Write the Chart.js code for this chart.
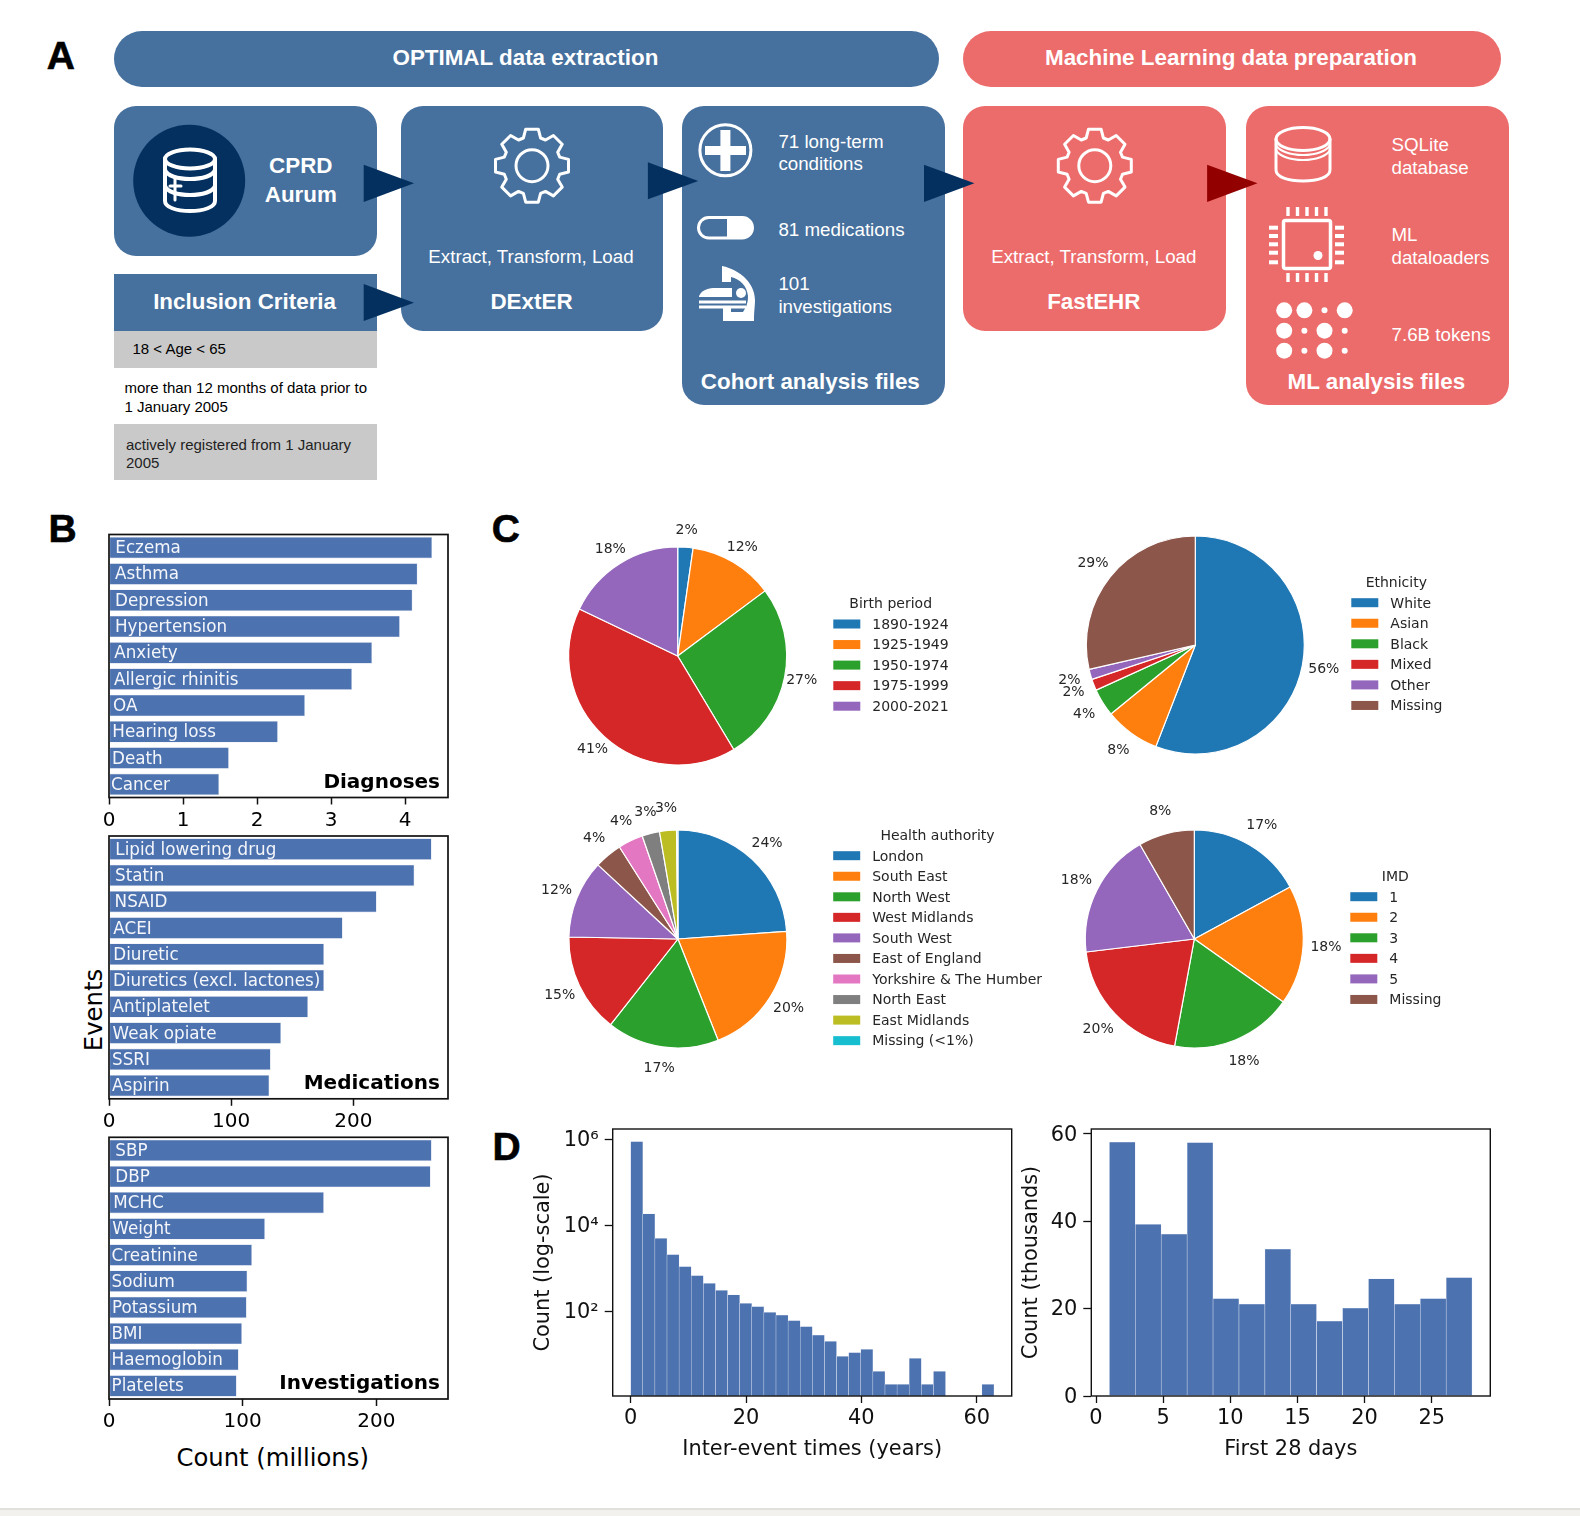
<!DOCTYPE html>
<html>
<head>
<meta charset="utf-8">
<title>Data pipeline and cohort overview</title>
<script src="https://cdn.jsdelivr.net/npm/chart.js@4"></script>
<style>
  html, body { margin: 0; padding: 0; background: #fff; }
  #fig { position: relative; width: 1580px; height: 1516px; overflow: hidden; font-family: "Liberation Sans", Arial, sans-serif; }
  #fig canvas { position: absolute; }
  .box { position: absolute; background: #46709d; border-radius: 22px; }
  .red { background: #ec6b6b; }
  .grey { position: absolute; background: #c9c9c9; left: 114.4px; width: 263px; }
  .t { position: absolute; white-space: nowrap; transform: translateY(-50%); line-height: 1; }
  .c { transform: translate(-50%, -50%); }
  .w { color: #fff; font-size: 18.75px; }
  .b { color: #fff; font-size: 22.4px; font-weight: bold; }
  .k { color: #000; font-size: 15px; }
  .letter { font-size: 39px; font-weight: bold; color: #000; -webkit-text-stroke: 0.6px #000; }
  .sup { font-family: "DejaVu Sans"; font-size: 24.3px; color: #000; }
  #strip { position: absolute; left: 0; top: 1508px; width: 1580px; height: 8px; background: #f2f1ed; border-top: 2px solid #e3e1dc; box-sizing: border-box; }
</style>
</head>
<body>
<div id="fig">
  <!-- panel A -->
  <div class="box" style="left:114.4px;top:30.7px;width:824.7px;height:56.3px;border-radius:28px"></div>
  <div class="box red" style="left:963.3px;top:30.7px;width:537.5px;height:56.3px;border-radius:28px"></div>
  <div class="box" style="left:114.4px;top:105.7px;width:263px;height:150px"></div>
  <div class="box" style="left:114.4px;top:274.3px;width:263px;height:56.4px;border-radius:0"></div>
  <div class="grey" style="top:330.7px;height:37px"></div>
  <div class="grey" style="top:424.3px;height:56px"></div>
  <div class="box" style="left:400.8px;top:105.7px;width:262.7px;height:225px"></div>
  <div class="box" style="left:681.9px;top:105.7px;width:263px;height:299.6px"></div>
  <div class="box red" style="left:963.3px;top:105.7px;width:263px;height:225px"></div>
  <div class="box red" style="left:1246.4px;top:105.7px;width:263px;height:299.6px"></div>
  <svg id="icons" width="1580" height="500" style="position:absolute;left:0;top:0"></svg>

  <div class="t c letter" style="left:60.8px;top:55.2px">A</div>
  <div class="t c letter" style="left:62.5px;top:527.5px">B</div>
  <div class="t c letter" style="left:505.8px;top:527.8px">C</div>
  <div class="t c letter" style="left:506.5px;top:1145.6px">D</div>

  <div class="t c b" style="left:525.4px;top:57.5px">OPTIMAL data extraction</div>
  <div class="t c b" style="left:1231px;top:57.5px">Machine Learning data preparation</div>
  <div class="t c b" style="left:300.8px;top:166px">CPRD</div>
  <div class="t c b" style="left:300.8px;top:194.7px">Aurum</div>
  <div class="t c b" style="left:244.6px;top:301.8px">Inclusion Criteria</div>
  <div class="t k" style="left:132.5px;top:348.2px">18 &lt; Age &lt; 65</div>
  <div class="t k" style="left:124.4px;top:387.3px">more than 12 months of data prior to</div>
  <div class="t k" style="left:124.4px;top:406px">1 January 2005</div>
  <div class="t k" style="left:126px;top:443.7px;color:#222">actively registered from 1 January</div>
  <div class="t k" style="left:126px;top:462.3px;color:#222">2005</div>
  <div class="t c w" style="left:531px;top:257.3px">Extract, Transform, Load</div>
  <div class="t c b" style="left:531.5px;top:301.8px">DExtER</div>
  <div class="t w" style="left:778.4px;top:142px">71 long-term</div>
  <div class="t w" style="left:778.4px;top:164.3px">conditions</div>
  <div class="t w" style="left:778.4px;top:229.7px">81 medications</div>
  <div class="t w" style="left:778.4px;top:284px">101</div>
  <div class="t w" style="left:778.4px;top:306.7px">investigations</div>
  <div class="t c b" style="left:810.3px;top:382.4px">Cohort analysis files</div>
  <div class="t c w" style="left:1093.8px;top:257.3px">Extract, Transform, Load</div>
  <div class="t c b" style="left:1093.8px;top:301.8px">FastEHR</div>
  <div class="t w" style="left:1391.5px;top:145.3px">SQLite</div>
  <div class="t w" style="left:1391.5px;top:167.7px">database</div>
  <div class="t w" style="left:1391.5px;top:235.3px">ML</div>
  <div class="t w" style="left:1391.5px;top:257.7px">dataloaders</div>
  <div class="t w" style="left:1391.5px;top:334.7px">7.6B tokens</div>
  <div class="t c b" style="left:1376.4px;top:382.4px">ML analysis files</div>

  <!-- shared labels of panel B -->
  <div class="t c sup" style="left:272.7px;top:1457.5px">Count (millions)</div>
  <div class="t c sup" style="left:94px;top:1010px;transform:translate(-50%,-50%) rotate(-90deg)">Events</div>
  <div id="strip"></div>
</div>

<script>
// --- 1. DATA ---
const diagLabels = ['Eczema', 'Asthma', 'Depression', 'Hypertension', 'Anxiety', 'Allergic rhinitis', 'OA', 'Hearing loss', 'Death', 'Cancer'];
const diagValues = [4.366, 4.168, 4.10, 3.93, 3.555, 3.284, 2.648, 2.282, 1.62, 1.488];
const diagInsets = [6.3, 6, 6, 6, 5.3, 5, 4, 3.3, 3, 2];
const diagTicks = [0, 1, 2, 3, 4];

const medLabels = ['Lipid lowering drug', 'Statin', 'NSAID', 'ACEI', 'Diuretic', 'Diuretics (excl. lactones)', 'Antiplatelet', 'Weak opiate', 'SSRI', 'Aspirin'];
const medValues = [264, 249.9, 219, 191.2, 176, 176, 162.9, 140.8, 132.3, 131.2];
const medInsets = [6.3, 6, 5.6, 4.3, 4.3, 4, 3.6, 3.6, 3, 3];
const medTicks = [0, 100, 200];

const invLabels = ['SBP', 'DBP', 'MCHC', 'Weight', 'Creatinine', 'Sodium', 'Potassium', 'BMI', 'Haemoglobin', 'Platelets'];
const invValues = [241.4, 240.6, 160.8, 116.7, 107, 103.5, 103, 99.5, 97, 95.5];
const invInsets = [6.3, 6.3, 4.3, 3.3, 2.6, 2.6, 3, 2.6, 2.6, 2.6];
const invTicks = [0, 100, 200];

const birthLabels = ['1890-1924', '1925-1949', '1950-1974', '1975-1999', '2000-2021'];
const birthValues = [2.26, 12.55, 26.6, 40.7, 17.9];
const birthPct = ['2%', '12%', '27%', '41%', '18%'];

const ethLabels = ['White', 'Asian', 'Black', 'Mixed', 'Other', 'Missing'];
const ethValues = [55.9, 8.2, 4.1, 1.7, 1.5, 28.6];
const ethPct = ['56%', '8%', '4%', '2%', '2%', '29%'];

const authLabels = ['London', 'South East', 'North West', 'West Midlands', 'South West', 'East of England', 'Yorkshire & The Humber', 'North East', 'East Midlands', 'Missing (<1%)'];
const authValues = [23.88, 20.1, 16.6, 14.7, 11.6, 4.1, 3.7, 2.6, 2.5, 0.2];
const authPct = ['24%', '20%', '17%', '15%', '12%', '4%', '4%', '3%', '3%', ''];

const imdLabels = ['1', '2', '3', '4', '5', 'Missing'];
const imdValues = [17.1, 17.7, 18.1, 20.2, 18.6, 8.3];
const imdPct = ['17%', '18%', '18%', '20%', '18%', '8%'];

const gapBins = [1.05, 3.15, 5.25, 7.35, 9.45, 11.55, 13.65, 15.75, 17.85, 19.95, 22.05, 24.15, 26.25, 28.35, 30.45, 32.55, 34.65, 36.75, 38.85, 40.95, 43.05, 45.15, 47.25, 49.35, 51.45, 53.55, 55.65, 57.75, 59.85, 61.95];
const gapCounts = [883000, 18400, 4990, 2080, 1094, 675, 448, 308, 240, 153, 128, 95, 82, 61, 44, 28, 20, 9, 11, 13, 4, 2, 2, 8, 2, 4, null, null, null, 2];
const gapXTicks = [0, 20, 40, 60];
const gapYTicks = [100, 10000, 1000000];
const gapYLabels = ['10²', '10⁴', '10⁶'];

const dayBins = [1.96, 3.89, 5.82, 7.75, 9.68, 11.61, 13.54, 15.46, 17.39, 19.32, 21.25, 23.18, 25.11, 27.04];
const dayCounts = [58.1, 39.3, 37.06, 58.0, 22.3, 21, 33.6, 21, 17.15, 20.1, 26.8, 21, 22.3, 27.1];
const dayXTicks = [0, 5, 10, 15, 20, 25];
const dayYTicks = [0, 20, 40, 60];

const tab10 = ['#1f77b4', '#ff7f0e', '#2ca02c', '#d62728', '#9467bd', '#8c564b', '#e377c2', '#7f7f7f', '#bcbd22', '#17becf'];
const barBlue = '#4c72b0';
const dejavu = '"DejaVu Sans", sans-serif';

// --- 2. SMALL PLUGINS ---
const framePlugin = {
    id: 'frame',
    afterDatasetsDraw(chart, args, opts) {
        const { left, top, width, height } = chart.chartArea;
        const c = chart.ctx;
        c.save();
        c.strokeStyle = '#111';
        c.lineWidth = opts.width;
        c.strokeRect(left, top, width, height);
        c.restore();
    }
};

const barTextPlugin = {
    id: 'barText',
    afterDatasetsDraw(chart, args, opts) {
        const c = chart.ctx;
        const area = chart.chartArea;
        c.save();
        c.font = '16.75px ' + dejavu;
        c.fillStyle = '#f4f6fa';
        c.textBaseline = 'middle';
        chart.getDatasetMeta(0).data.forEach((bar, i) => {
            c.fillText(chart.data.labels[i], area.left + opts.insets[i], bar.y + 1.2);
        });
        c.font = 'bold 20px ' + dejavu;
        c.fillStyle = '#000';
        c.textAlign = 'right';
        c.fillText(opts.title, area.right - 8, area.bottom - 15);
        c.restore();
    }
};

const pieTextPlugin = {
    id: 'pieText',
    afterDatasetsDraw(chart, args, opts) {
        const c = chart.ctx;
        c.save();
        c.font = '14px ' + dejavu;
        c.fillStyle = '#262626';
        c.textBaseline = 'middle';
        c.textAlign = 'center';
        chart.getDatasetMeta(0).data.forEach((arc, i) => {
            const mid = (arc.startAngle + arc.endAngle) / 2;
            const dist = arc.outerRadius * opts.distance;
            c.fillText(opts.pct[i], arc.x + Math.cos(mid) * dist, arc.y + Math.sin(mid) * dist);
        });

        // legend block, matplotlib style
        const colors = chart.data.datasets[0].backgroundColor;
        const ox = chart.canvas.offsetLeft, oy = chart.canvas.offsetTop;
        c.textAlign = 'center';
        c.fillText(opts.legendTitle, opts.titleX - ox, opts.rowY - 20.6 + 1.2 - oy);
        c.textAlign = 'left';
        chart.data.labels.forEach((label, i) => {
            const y = opts.rowY + i * 20.55 - oy;
            c.fillStyle = colors[i];
            c.fillRect(opts.boxX - ox, y - 4.5, 27, 9);
            c.fillStyle = '#262626';
            c.fillText(label, opts.boxX + 39 - ox, y + 1.2);
        });
        c.restore();
    }
};

function addCanvas(left, top, width, height) {
    const cv = document.createElement('canvas');
    cv.width = width;
    cv.height = height;
    cv.style.left = left + 'px';
    cv.style.top = top + 'px';
    cv.style.width = width + 'px';
    cv.style.height = height + 'px';
    document.getElementById('fig').appendChild(cv);
    return cv.getContext('2d');
}

function axisTicks(list) {
    return scale => { scale.ticks = list.map(v => ({ value: v })); };
}

// canvas with whole-pixel position; the fractional rest of the frame goes into the layout padding
function frameCanvas(frame, ml, mt, mr, mb) {
    const left = Math.floor(frame.x0 - ml), top = Math.floor(frame.y0 - mt);
    const width = Math.ceil(frame.x1 + mr - left), height = Math.ceil(frame.y1 + mb - top);
    return {
        ctx: addCanvas(left, top, width, height),
        padL: frame.x0 - left,
        padT: frame.y0 - top,
        padR: left + width - frame.x1,
        axisH: top + height - frame.y1
    };
}

// --- 3. PANEL B ---
function hbarPanel(frame, labels, values, insets, ticks, xMax, title) {
    const box = frameCanvas(frame, 12, 3, 3, 40);
    return new Chart(box.ctx, {
        type: 'bar',
        data: {
            labels: labels,
            datasets: [{ data: values, backgroundColor: barBlue, borderColor: '#d5dcec', borderWidth: 0.6, borderSkipped: false, barPercentage: 0.82, categoryPercentage: 1 }]
        },
        plugins: [framePlugin, barTextPlugin],
        options: {
            indexAxis: 'y',
            responsive: false,
            animation: false,
            layout: { padding: { left: box.padL, top: box.padT, right: box.padR, bottom: 0 } },
            scales: {
                x: {
                    min: 0, max: xMax,
                    afterBuildTicks: axisTicks(ticks),
                    afterFit(s) { s.height = box.axisH; },
                    border: { display: false },
                    grid: { drawOnChartArea: false, tickLength: 7, tickWidth: 1.5, tickColor: '#111' },
                    ticks: { autoSkip: false, maxRotation: 0, padding: 4, color: '#000', font: { family: dejavu, size: 20 }, callback: v => v }
                },
                y: { display: false }
            },
            plugins: {
                legend: { display: false },
                tooltip: { enabled: false },
                frame: { width: 1.7 },
                barText: { insets: insets, title: title }
            }
        }
    });
}

hbarPanel({ x0: 109, x1: 448, y0: 534.5, y1: 797.5 }, diagLabels, diagValues, diagInsets, diagTicks, 4.58, 'Diagnoses');
hbarPanel({ x0: 109, x1: 448, y0: 836, y1: 1098.8 }, medLabels, medValues, medInsets, medTicks, 277.4, 'Medications');
hbarPanel({ x0: 109, x1: 448, y0: 1137.3, y1: 1399 }, invLabels, invValues, invInsets, invTicks, 253.6, 'Investigations');

// --- 4. PANEL C ---
function piePanel(cx, cy, width, labels, values, pct, distance, legend) {
    const left = Math.floor(cx - 160), top = Math.floor(cy - 140);
    const ctx = addCanvas(left, top, width, 282);
    return new Chart(ctx, {
        type: 'pie',
        data: {
            labels: labels,
            datasets: [{ data: values, backgroundColor: tab10.slice(0, labels.length), borderColor: '#fff', borderWidth: 1.2, radius: 109 }]
        },
        plugins: [pieTextPlugin],
        options: {
            responsive: false,
            animation: false,
            layout: { padding: { left: 2 * (cx - left) - 320, right: width - 320, top: 2 * (cy - top) - 282, bottom: 0 } },
            plugins: {
                legend: { display: false },
                tooltip: { enabled: false },
                pieText: Object.assign({ pct: pct, distance: distance }, legend)
            }
        }
    });
}

piePanel(677.7, 655.7, 450, birthLabels, birthValues, birthPct, 1.16, { legendTitle: 'Birth period', titleX: 890.7, rowY: 624, boxX: 833.3 });
piePanel(1195.3, 644.3, 430, ethLabels, ethValues, ethPct, 1.2, { legendTitle: 'Ethnicity', titleX: 1396.3, rowY: 602.7, boxX: 1351.3 });
piePanel(677.9, 938.6, 540, authLabels, authValues, authPct, 1.2, { legendTitle: 'Health authority', titleX: 937.5, rowY: 855.7, boxX: 833.2 });
piePanel(1194.3, 938.3, 430, imdLabels, imdValues, imdPct, 1.21, { legendTitle: 'IMD', titleX: 1395.3, rowY: 896.7, boxX: 1350.3 });

// --- 5. PANEL D ---
function histPanel(frame, ml, bins, counts, xRange, xTicks, yScale, xTitle, yTitle) {
    const box = frameCanvas(frame, ml, 30, 4, 65.5);
    return new Chart(box.ctx, {
        type: 'bar',
        data: {
            datasets: [{
                data: bins.map((b, i) => ({ x: b, y: counts[i] })),
                backgroundColor: barBlue, borderColor: '#dfe5f1', borderWidth: 0.5, borderSkipped: false,
                barPercentage: 1, categoryPercentage: 1
            }]
        },
        plugins: [framePlugin],
        options: {
            responsive: false,
            animation: false,
            layout: { padding: { top: box.padT, right: box.padR, left: 0, bottom: 0 } },
            scales: {
                x: {
                    type: 'linear', min: xRange[0], max: xRange[1], offset: false,
                    afterBuildTicks: axisTicks(xTicks),
                    afterFit(s) { s.height = box.axisH; },
                    border: { display: false },
                    grid: { offset: false, drawOnChartArea: false, tickLength: 7, tickWidth: 1.3, tickColor: '#111' },
                    title: { display: true, text: xTitle, color: '#111', padding: 0, font: { family: dejavu, size: 20.9 } },
                    ticks: { autoSkip: false, maxRotation: 0, padding: 3, color: '#111', font: { family: dejavu, size: 20.9 }, callback: v => v }
                },
                y: Object.assign({
                    afterFit(s) { s.width = box.padL; },
                    border: { display: false },
                    grid: { drawOnChartArea: false, tickLength: 8, tickWidth: 1.3, tickColor: '#111' },
                    title: { display: true, text: yTitle, color: '#111', padding: 0, font: { family: dejavu, size: 20.9 } }
                }, yScale)
            },
            plugins: {
                legend: { display: false },
                tooltip: { enabled: false },
                frame: { width: 1.4 }
            }
        }
    });
}

histPanel({ x0: 612.7, x1: 1011.7, y0: 1129, y1: 1396 }, 81.7, gapBins, gapCounts, [-3.12, 66.07], gapXTicks, {
    type: 'logarithmic', min: 1.07, max: 1740000,
    afterBuildTicks: axisTicks(gapYTicks),
    ticks: { autoSkip: false, padding: 6, labelOffset: 1.5, color: '#111', font: { family: dejavu, size: 20.9 }, callback: v => gapYLabels[gapYTicks.indexOf(v)] }
}, 'Inter-event times (years)', 'Count (log-scale)');

histPanel({ x0: 1091.3, x1: 1490.3, y0: 1129, y1: 1396 }, 72.1, dayBins, dayCounts, [-0.35, 29.36], dayXTicks, {
    type: 'linear', min: 0, max: 61.08,
    afterBuildTicks: axisTicks(dayYTicks),
    ticks: { autoSkip: false, padding: 6, labelOffset: 1.5, color: '#111', font: { family: dejavu, size: 20.9 }, callback: v => v }
}, 'First 28 days', 'Count (thousands)');

// --- 6. PANEL A ICONS ---
function gearPath(cx, cy) {
    let d = '';
    for (let i = 0; i < 8; i++) {
        const a = -Math.PI / 2 + i * Math.PI / 4;
        const pts = [[-0.30, 29], [-0.17, 37], [0.17, 37], [0.30, 29]];
        pts.forEach((p, j) => {
            const x = cx + Math.cos(a + p[0]) * p[1], y = cy + Math.sin(a + p[0]) * p[1];
            d += (i === 0 && j === 0 ? 'M' : 'L') + x.toFixed(1) + ' ' + y.toFixed(1);
        });
    }
    return d + 'Z';
}

const dots = [];
[[1284.2, 310.3, 8], [1304.4, 310.3, 8], [1324.5, 310.3, 3], [1344.7, 310.3, 8],
 [1284.2, 330.7, 8], [1304.4, 330.7, 3], [1324.5, 330.7, 8], [1344.7, 330.7, 3],
 [1284.2, 350.7, 8], [1304.4, 350.7, 3], [1324.5, 350.7, 8], [1344.7, 350.7, 3]].forEach(d => {
    dots.push(`<circle cx="${d[0]}" cy="${d[1]}" r="${d[2]}" fill="#fff"/>`);
});
const pins = [];
[1288, 1297.5, 1307, 1316.5, 1326].forEach(x => {
    pins.push(`<rect x="${x - 1.7}" y="207" width="3.4" height="9" fill="#fff"/><rect x="${x - 1.7}" y="273" width="3.4" height="9" fill="#fff"/>`);
});
[227.7, 236, 244.3, 252.7, 262.3].forEach(y => {
    pins.push(`<rect x="1269" y="${y - 2}" width="9" height="4" fill="#fff"/><rect x="1335" y="${y - 2}" width="9" height="4" fill="#fff"/>`);
});

document.getElementById('icons').innerHTML = `
  <ellipse cx="189.2" cy="180.7" rx="56" ry="56" fill="#03305f"/>
  <g fill="none" stroke="#fff" stroke-width="3" stroke-linejoin="round" stroke-linecap="round">
    <path d="${gearPath(532, 165.7)}"/><circle cx="532" cy="165.7" r="16"/>
    <path d="${gearPath(1094.8, 165.7)}"/><circle cx="1094.8" cy="165.7" r="16"/>
    <circle cx="725.4" cy="150.3" r="25.5"/>
    <rect x="698.5" y="217.5" width="54" height="20.5" rx="10.2"/>
    <ellipse cx="1303" cy="139" rx="27" ry="11.5"/>
    <path d="M1276 139V170C1276 177 1288 181 1303 181S1330 177 1330 170V139"/>
    <path d="M1276 145C1279 151 1290 155 1303 155S1327 151 1330 145M1276 150C1279 156 1290 160 1303 160S1327 156 1330 150" stroke-width="2"/>
    <rect x="1283.5" y="220.5" width="47" height="48" rx="2" stroke-width="3.5"/>
  </g>
  <circle cx="1318" cy="255.5" r="4.5" fill="#fff"/>
  ${pins.join('')}
  ${dots.join('')}
  <g fill="none" stroke="#fff" stroke-width="4" stroke-linecap="round" stroke-linejoin="round">
    <ellipse cx="190" cy="159" rx="25" ry="9.5"/>
    <path d="M165 159V201C165 207 176 211 190 211S215 207 215 201V159"/>
    <path d="M165 170C167 176 178 179 190 179S213 176 215 170M165 186C167 192 178 195 190 195S213 192 215 186"/>
    <path d="M175 178V200M170 186H181" stroke-width="3"/>
  </g>
  <rect x="720.4" y="130" width="10" height="41" fill="#fff"/>
  <rect x="705" y="146" width="41" height="9" fill="#fff"/>
  <path d="M727 217.5H742A10.2 10.2 0 0 1 742 238H727Z" fill="#fff"/>
  <path d="M722 266C741 270 755 284 755 300C755 306 754 311 754 321H723V306H731V312H743C747 306 748 302 748 296C747 286 740 279 731 277V282H722Z" fill="#fff"/>
  <rect x="699" y="300.5" width="47" height="3" fill="#fff"/>
  <rect x="699" y="305.5" width="47" height="3" fill="#fff"/>
  <path d="M699 296C702 289 710 288 715 288H732V297H699Z" fill="#fff"/>
  <circle cx="741" cy="293" r="5" fill="#fff"/>
  <polygon points="363.7,164.7 414,183.3 363.7,202" fill="#03305f"/>
  <polygon points="363.7,284 414,302.7 363.7,321" fill="#03305f"/>
  <polygon points="647.9,162.3 698.2,181 647.9,199.3" fill="#03305f"/>
  <polygon points="924,164.7 974.4,183.3 924,202" fill="#03305f"/>
  <polygon points="1207.1,164.7 1257.5,183.3 1207.1,202" fill="#930000"/>`;
</script>
</body>
</html>
